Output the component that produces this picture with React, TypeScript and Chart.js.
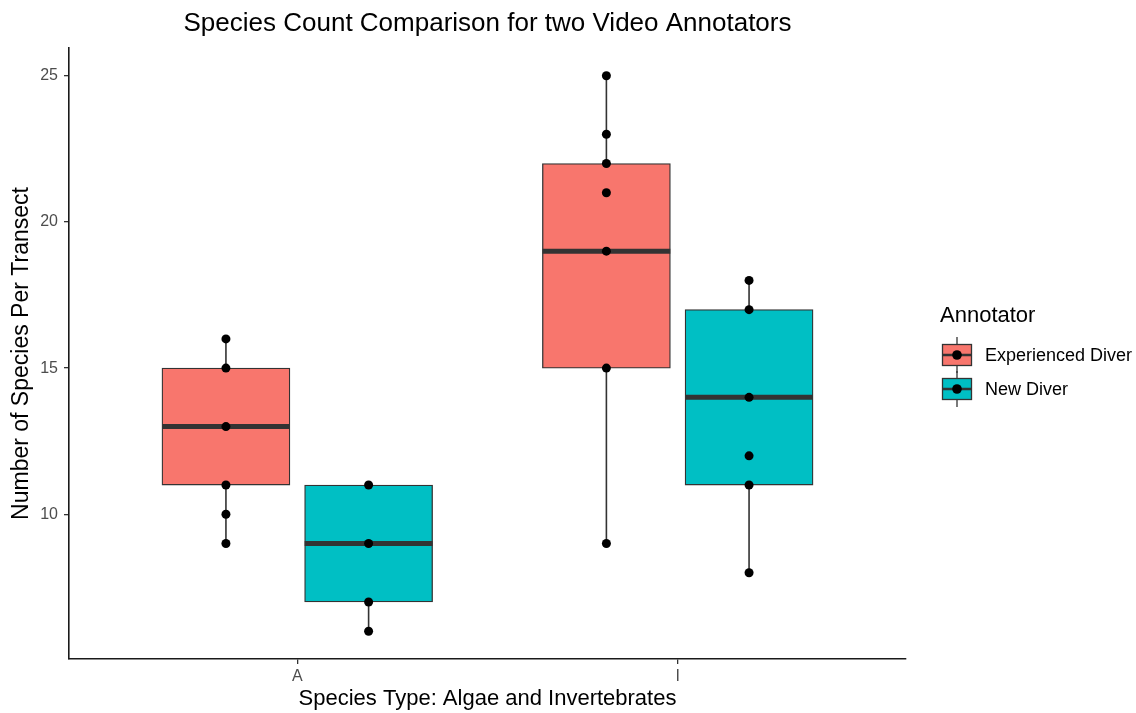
import { useEffect, useRef } from 'react';
import { Chart, registerables } from 'chart.js';

Chart.register(...registerables);

const categories = ['A', 'I'];
const seriesNames = ['Experienced Diver', 'New Diver'];
const seriesColors = ['#F8766D', '#00BFC4'];
const yTicks = [10, 15, 20, 25];

const expMin = [9, 9];
const expQ1 = [11, 15];
const expMedian = [13, 19];
const expQ3 = [15, 22];
const expMax = [16, 25];
const expPoints = [
  [16, 15, 13, 11, 10, 9],
  [25, 23, 22, 21, 19, 15, 9],
];

const newMin = [6, 8];
const newQ1 = [7, 11];
const newMedian = [9, 14];
const newQ3 = [11, 17];
const newMax = [11, 18];
const newPoints = [
  [11, 9, 7, 6],
  [18, 17, 14, 12, 11, 8],
];

const FONT = '"Liberation Sans", Arial, Helvetica, sans-serif';
const DODGE = 0.1875;
const HALF_BOX = 0.168;
const LINE_COLOR = '#333333';

type Group = {
  min: number[];
  q1: number[];
  med: number[];
  q3: number[];
  max: number[];
  points: number[][];
  offset: number;
};

const groups: Group[] = [
  { min: expMin, q1: expQ1, med: expMedian, q3: expQ3, max: expMax, points: expPoints, offset: -DODGE },
  { min: newMin, q1: newQ1, med: newMedian, q3: newQ3, max: newMax, points: newPoints, offset: DODGE },
];

function buildDatasets() {
  const ds: any[] = [];
  groups.forEach((g, s) => {
    const cx = (i: number) => i + 1 + g.offset;
    ds.push({
      type: 'bar',
      label: seriesNames[s],
      data: categories.map((_, i) => ({ x: cx(i), y: [g.q1[i], g.q3[i]] })),
      backgroundColor: seriesColors[s],
      borderColor: LINE_COLOR,
      borderWidth: 1.3,
      borderSkipped: false,
      barThickness: 128,
      grouped: false,
      order: 2,
    });
    ds.push({
      type: 'line',
      label: seriesNames[s] + ' whiskers',
      data: categories.flatMap((_, i) => [
        { x: cx(i), y: g.q3[i] },
        { x: cx(i), y: g.max[i] },
        { x: cx(i), y: null },
        { x: cx(i), y: g.q1[i] },
        { x: cx(i), y: g.min[i] },
        { x: cx(i), y: null },
      ]),
      borderColor: LINE_COLOR,
      borderWidth: 1.6,
      pointRadius: 0,
      spanGaps: false,
      fill: false,
      order: 3,
    });
    ds.push({
      type: 'line',
      label: seriesNames[s] + ' median',
      data: categories.flatMap((_, i) => [
        { x: cx(i) - HALF_BOX, y: g.med[i] },
        { x: cx(i) + HALF_BOX, y: g.med[i] },
        { x: cx(i) + HALF_BOX, y: null },
      ]),
      borderColor: LINE_COLOR,
      borderWidth: 5,
      borderCapStyle: 'butt',
      pointRadius: 0,
      spanGaps: false,
      fill: false,
      order: 1,
    });
    ds.push({
      type: 'scatter',
      label: seriesNames[s] + ' points',
      data: categories.flatMap((_, i) => g.points[i].map((v) => ({ x: cx(i), y: v }))),
      backgroundColor: '#000000',
      borderWidth: 0,
      pointRadius: 4.5,
      order: 0,
    });
  });
  return ds;
}

function LegendKey({ color }: { color: string }) {
  return (
    <svg width={32} height={36} style={{ display: 'block' }}>
      <line x1={16} y1={0} x2={16} y2={36} stroke={LINE_COLOR} strokeWidth={1.3} />
      <rect x={1.5} y={7.5} width={29} height={21} fill={color} stroke={LINE_COLOR} strokeWidth={1.3} />
      <line x1={1.5} y1={18} x2={30.5} y2={18} stroke={LINE_COLOR} strokeWidth={2.5} />
      <circle cx={16} cy={18} r={4.8} fill="#000" />
    </svg>
  );
}

export default function App() {
  const canvasRef = useRef<HTMLCanvasElement | null>(null);

  useEffect(() => {
    if (!canvasRef.current) return;
    const chart = new Chart(canvasRef.current, {
      type: 'bar',
      data: { datasets: buildDatasets() },
      options: {
        responsive: false,
        animation: false,
        layout: { padding: { left: 0, right: 230, top: 0, bottom: 0 } },
        plugins: {
          legend: { display: false },
          tooltip: { enabled: false },
          title: {
            display: true,
            text: 'Species Count Comparison for two Video Annotators',
            fullSize: false,
            color: '#000000',
            font: { family: FONT, size: 26, weight: 'normal', lineHeight: 1.15 },
            padding: { top: 9, bottom: 9.1 },
          },
        },
        scales: {
          x: {
            type: 'linear',
            min: 0.4,
            max: 2.6,
            offset: false,
            afterBuildTicks: (scale: any) => {
              scale.ticks = categories.map((_, i) => ({ value: i + 1 }));
            },
            afterFit: (scale: any) => {
              scale.height = 54;
            },
            ticks: {
              autoSkip: false,
              maxRotation: 0,
              padding: 3,
              color: '#4D4D4D',
              font: { family: FONT, size: 16 },
              callback: (v: any) => categories[Math.round(Number(v)) - 1] ?? '',
            },
            grid: {
              display: true,
              offset: false,
              drawOnChartArea: false,
              drawTicks: true,
              tickLength: 5,
              color: LINE_COLOR,
              lineWidth: 1.3,
            },
            border: { display: true, color: '#1a1a1a', width: 1.6 },
            title: {
              display: true,
              text: 'Species Type: Algae and Invertebrates',
              color: '#000000',
              font: { family: FONT, size: 22 },
              padding: { top: 0, bottom: 1 },
            },
          },
          y: {
            type: 'linear',
            min: 5.05,
            max: 25.95,
            afterBuildTicks: (scale: any) => {
              scale.ticks = yTicks.map((v) => ({ value: v }));
            },
            afterFit: (scale: any) => {
              scale.width = 69;
            },
            ticks: {
              padding: 6,
              color: '#4D4D4D',
              font: { family: FONT, size: 16 },
            },
            grid: {
              display: true,
              drawOnChartArea: false,
              drawTicks: true,
              tickLength: 5,
              color: LINE_COLOR,
              lineWidth: 1.3,
            },
            border: { display: true, color: '#1a1a1a', width: 1.6 },
            title: {
              display: true,
              text: 'Number of Species Per Transect',
              color: '#000000',
              font: { family: FONT, size: 23 },
              padding: { top: 8, bottom: 0 },
            },
          },
        },
      } as any,
    });
    return () => chart.destroy();
  }, []);

  return (
    <div
      style={{
        position: 'fixed',
        left: 0,
        top: 0,
        width: 1136,
        height: 713,
        background: '#ffffff',
        fontFamily: FONT,
      }}
    >
      <canvas ref={canvasRef} width={1136} height={713} style={{ position: 'absolute', left: 0, top: 0 }} />
      <div style={{ position: 'absolute', left: 940, top: 301, fontSize: 22, lineHeight: '28px', color: '#000' }}>
        Annotator
      </div>
      {seriesNames.map((name, s) => (
        <div
          key={name}
          style={{
            position: 'absolute',
            left: 941,
            top: 337 + s * 34,
            height: 36,
            display: 'flex',
            alignItems: 'center',
          }}
        >
          <LegendKey color={seriesColors[s]} />
          <span style={{ marginLeft: 12, fontSize: 18, color: '#000', whiteSpace: 'nowrap' }}>{name}</span>
        </div>
      ))}
    </div>
  );
}
